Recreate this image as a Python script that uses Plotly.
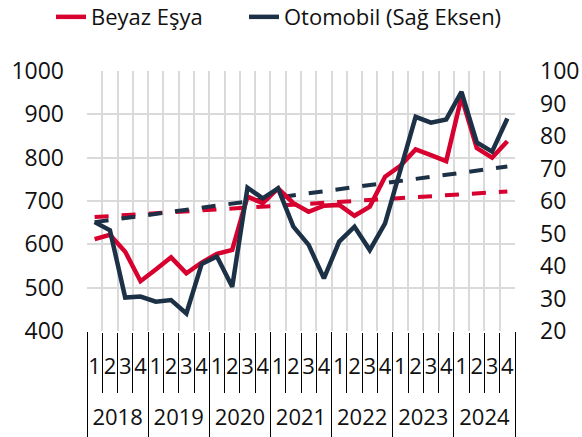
import plotly.graph_objects as go

years = ["2018", "2019", "2020", "2021", "2022", "2023", "2024"]
quarters = ["1", "2", "3", "4"]

beyaz_esya = [612, 622, 583, 515, 542, 570, 533, 558, 578, 587,
              710, 695, 729, 695, 675, 689, 691, 666, 687, 756,
              781, 819, 806, 792, 940, 822, 800, 838]
otomobil = [53.5, 51, 30.3, 30.6, 29, 29.5, 25.4, 40.6, 42.9, 33.6,
            64.1, 60.8, 63.9, 52.1, 46.5, 36.2, 47.5, 52.1, 44.9, 53.1,
            69.5, 85.9, 84.1, 85.1, 93.6, 78, 75.2, 85.4]
beyaz_trend_ends = [663, 722]
oto_trend_ends = [53.5, 70.6]

# category index positions derived from the year/quarter lists
labels_q = [q for _ in years for q in quarters]
n = len(labels_q)
idx = list(range(n))
x_ends = [idx[0], idx[-1]]
nq = len(quarters)
year_centers = [k * nq + (nq - 1) / 2 for k in range(len(years))]
q_bounds = [i - 0.5 for i in range(n + 1)]
year_bounds = [k * nq - 0.5 for k in range(len(years) + 1)]
xr = [-0.5, n - 0.5]

RED = "#D7002F"
NAVY = "#1C3046"
FONT = "Open Sans"
TXT = "#111111"

fig = go.Figure()
fig.add_trace(go.Scatter(x=idx, y=beyaz_esya, mode="lines", name="Beyaz Eşya",
                         line=dict(color=RED, width=4.5), zorder=2, legend="legend"))
fig.add_trace(go.Scatter(x=idx, y=otomobil, mode="lines", name="Otomobil (Sağ Eksen)", yaxis="y2",
                         line=dict(color=NAVY, width=4.5), zorder=3, legend="legend2"))
fig.add_trace(go.Scatter(x=x_ends, y=beyaz_trend_ends, mode="lines", showlegend=False,
                         line=dict(color=RED, width=4, dash="14px,13px"), hoverinfo="skip", zorder=0))
fig.add_trace(go.Scatter(x=x_ends, y=oto_trend_ends, mode="lines", showlegend=False, yaxis="y2",
                         line=dict(color=NAVY, width=4, dash="14px,13px"), hoverinfo="skip", zorder=1))
# empty helper traces so the label/divider axes are drawn (no visible marks)
for ax in ["x2", "x3", "x4"]:
    fig.add_trace(go.Scatter(x=[None], y=[None], xaxis=ax, yaxis="y", mode="lines",
                             showlegend=False, hoverinfo="skip"))

fig.update_layout(
    width=582, height=437,
    margin=dict(l=87, r=67, t=71, b=106, autoexpand=False),
    paper_bgcolor="white", plot_bgcolor="white",
    font=dict(family=FONT, size=22, color=TXT),
    showlegend=True,
    legend=dict(orientation="h", xref="container", x=51 / 582, xanchor="left",
                yref="container", y=0.961, yanchor="middle",
                font=dict(size=22, color=TXT), bgcolor="rgba(0,0,0,0)"),
    legend2=dict(orientation="h", xref="container", x=244 / 582, xanchor="left",
                 yref="container", y=0.961, yanchor="middle",
                 font=dict(size=22, color=TXT), bgcolor="rgba(0,0,0,0)"),
    # boundaries: gridlines + short quarter dividers
    xaxis=dict(range=xr, tickmode="array", tickvals=q_bounds, showticklabels=False,
               ticks="outside", ticklen=60, tickcolor="black", tickwidth=1,
               showline=True, linecolor="black", linewidth=1.5,
               showgrid=True, gridcolor="#DADADA", gridwidth=1.5, zeroline=False),
    # quarter labels
    xaxis2=dict(range=xr, overlaying="x", anchor="y", side="bottom", tickmode="array",
                tickvals=idx, ticktext=labels_q, ticks="", showgrid=False, showline=False,
                zeroline=False, tickangle=0, ticklabelstandoff=20,
                tickfont=dict(size=22, color=TXT)),
    # year labels
    xaxis3=dict(range=xr, overlaying="x", anchor="y", side="bottom", tickmode="array",
                tickvals=year_centers, ticktext=years, ticks="", showgrid=False, showline=False,
                zeroline=False, tickangle=0, ticklabelstandoff=71,
                tickfont=dict(size=22, color=TXT)),
    # long year dividers
    xaxis4=dict(range=xr, overlaying="x", anchor="y", side="bottom", tickmode="array",
                tickvals=year_bounds, showticklabels=False, ticks="outside", ticklen=106,
                tickcolor="black", tickwidth=1, showgrid=False, showline=False, zeroline=False),
    yaxis=dict(range=[400, 1000], dtick=100, showgrid=True, gridcolor="#DADADA", gridwidth=1.5,
               zeroline=False, ticks="", ticklabelstandoff=22,
               tickfont=dict(size=23, color=TXT)),
    yaxis2=dict(range=[20, 100], dtick=10, overlaying="y", side="right", showgrid=False,
                zeroline=False, ticks="", ticklabelstandoff=24,
                tickfont=dict(size=23, color=TXT)),
)

fig.write_html("out.html", config={"displayModeBar": False},
               post_script="document.body.style.margin='0';")
